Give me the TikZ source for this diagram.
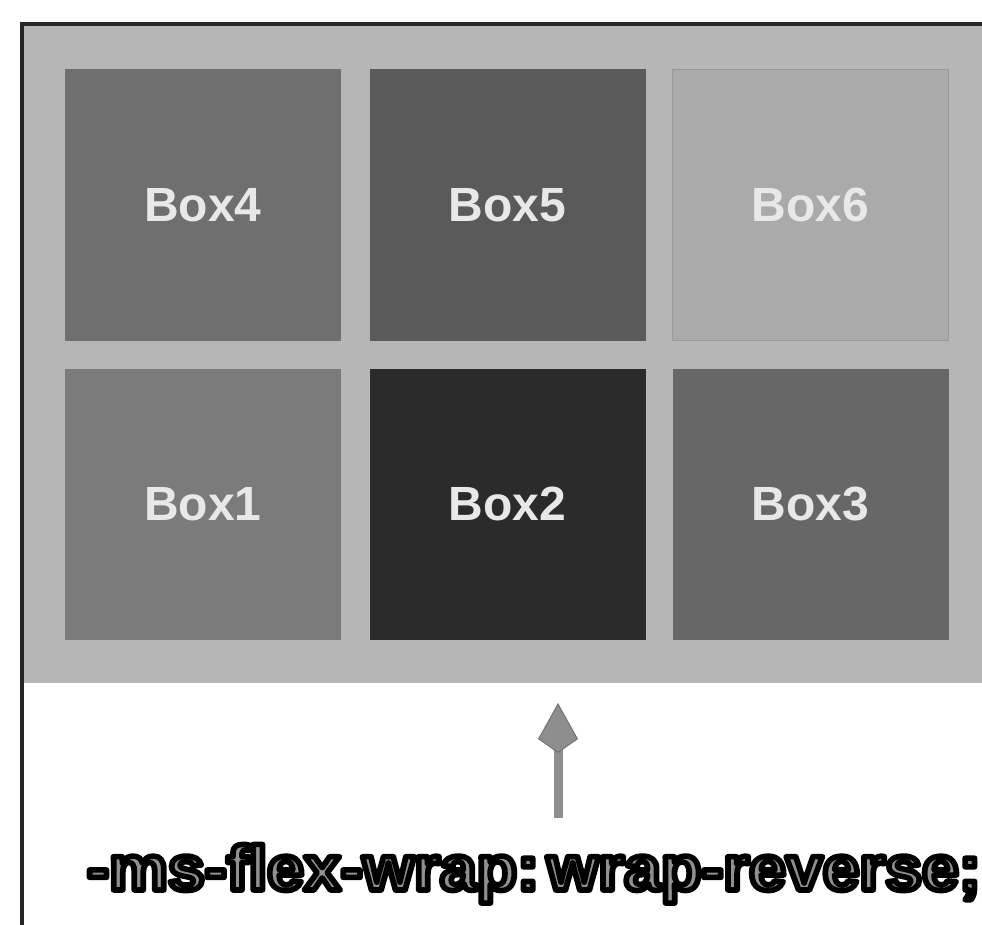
\documentclass[tikz,border=0pt]{standalone}
\usepackage{fontspec}
\setmainfont{Liberation Sans}
\usetikzlibrary{arrows.meta}
\definecolor{bggray}{HTML}{B6B6B6}
\definecolor{cfour}{HTML}{6F6F6F}
\definecolor{cfive}{HTML}{5A5A5A}
\definecolor{csix}{HTML}{AAAAAA}
\definecolor{cone}{HTML}{7B7B7B}
\definecolor{ctwo}{HTML}{2B2B2B}
\definecolor{cthree}{HTML}{676767}
\definecolor{labelc}{HTML}{E8E8E8}
\definecolor{arrowc}{HTML}{8E8E8E}
\definecolor{txtgray}{HTML}{909090}
\newcommand\outlinedtxt[1]{{\color{txtgray}%
 \special{pdf:literal direct 0 0 0 RG 2 Tr 5.5 w 1 j}#1\special{pdf:literal direct 0 Tr}}}
\begin{document}
\begin{tikzpicture}[x=1pt,y=1pt,
  flexbox/.style={draw=none,minimum width=276pt,minimum height=271pt,inner sep=0pt,
    text=labelc,font=\fontsize{48}{48}\selectfont\bfseries}]
\useasboundingbox (0,0) rectangle (982,-925);
\fill[white] (0,0) rectangle (982,-925);
% container
\fill[bggray] (24,-26) rectangle (982,-683);
\draw[line width=4pt,color=black!85,line cap=rect] (22,-925) -- (22,-24.5) -- (982,-24.5);
% boxes
\node[flexbox,fill=cfour] (box4) at (203,-205) {Box4};
\node[flexbox,fill=cfive] (box5) at (507.5,-205) {Box5};
\node[flexbox,fill=csix,draw=black!40,line width=1.5pt] (box6) at (810.5,-205) {Box6};
\node[flexbox,fill=cone] (box1) at (203,-504) {Box1};
\node[flexbox,fill=ctwo] (box2) at (507.5,-504) {Box2};
\node[flexbox,fill=cthree] (box3) at (810.5,-504) {Box3};
% arrow
\coordinate (atail) at (558,-818);
\coordinate (ahead) at (558,-703);
\draw[line width=9pt,color=arrowc,
  -{Kite[length=50pt,width=40pt,inset=14pt,fill=arrowc,color=black!55,line width=1pt]}]
  (atail) -- (ahead);
% caption
\node[anchor=base,inner sep=0pt,font=\fontsize{63}{63}\selectfont\bfseries] (caption)
  at (534,-890) {\scalebox{1.05}[1]{\outlinedtxt{-ms-flex-wrap:\hspace{0.12em}wrap-reverse;}}};
\end{tikzpicture}
\end{document}
